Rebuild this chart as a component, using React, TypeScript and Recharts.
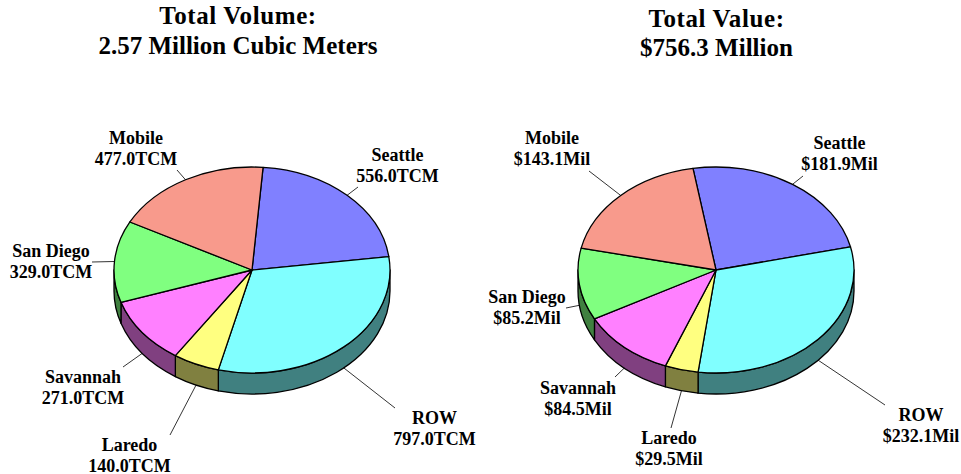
import { Pie, PieChart } from "recharts";

const sites = ["Seattle", "ROW", "Laredo", "Savannah", "San Diego", "Mobile"];
const volume = [556.0, 797.0, 140.0, 271.0, 329.0, 477.0];
const valueMil = [181.9, 232.1, 29.5, 84.5, 85.2, 143.1];
const topColors = ["#8080ff", "#80ffff", "#ffff80", "#ff80ff", "#80ff80", "#f89a8c"];
const wallColors = ["#404080", "#408080", "#808040", "#804080", "#408040", "#804d46"];

const volumeTitle = ["Total Volume:", "2.57 Million Cubic Meters"];
const valueTitle = ["Total Value:", "$756.3 Million"];

// label placement, same order as sites: text centre x, first line y, leader end x/y
const volumeSpots = [
  [397.5, 155, 358, 187],
  [434.5, 418, 395, 408],
  [129.5, 445, 170, 435],
  [83, 377, 123, 367],
  [51, 251, 92, 262],
  [136, 138, 177, 170],
];
const valueSpots = [
  [839.5, 143.5, 803, 176],
  [921, 415, 885, 405],
  [669, 438, 671, 428],
  [578, 388, 615, 377],
  [527, 297, 566, 308],
  [552, 138, 589, 171],
];

const SQUASH = 103 / 138;
const DEPTH = 21;
const FONT = "'Liberation Serif', serif";

const table = (values: number[], colors: string[]) =>
  sites.map((name, i) => ({ name, value: values[i], fill: colors[i] }));

const rad = (a: number) => (a * Math.PI) / 180;

const rimPoint = (cx: number, cy: number, r: number, a: number) => [
  cx + r * Math.cos(rad(a)),
  cy - r * SQUASH * Math.sin(rad(a)),
];

// top face of a slice, squashed into an ellipse
function TopSlice(props: any) {
  const { cx, cy, outerRadius: r, startAngle, endAngle, fill } = props;
  const [x1, y1] = rimPoint(cx, cy, r, startAngle);
  const [x2, y2] = rimPoint(cx, cy, r, endAngle);
  const large = Math.abs(startAngle - endAngle) > 180 ? 1 : 0;
  return (
    <path
      d={`M${cx},${cy}L${x1},${y1}A${r},${r * SQUASH} 0 ${large} 1 ${x2},${y2}Z`}
      fill={fill}
      stroke="#000"
      strokeWidth={1.3}
      strokeLinejoin="round"
    />
  );
}

// side wall, only the part of the slice on the front half of the disc
function WallSlice(props: any) {
  const { cx, cy, outerRadius: r, startAngle, endAngle, fill } = props;
  const from = Math.min(startAngle, 0);
  const to = Math.max(endAngle, -180);
  if (from <= to) return null;
  const [x1, y1] = rimPoint(cx, cy, r, from);
  const [x2, y2] = rimPoint(cx, cy, r, to);
  const ry = r * SQUASH;
  return (
    <path
      d={`M${x1},${y1}A${r},${ry} 0 0 1 ${x2},${y2}L${x2},${y2 + DEPTH}A${r},${ry} 0 0 0 ${x1},${y1 + DEPTH}Z`}
      fill={fill}
      stroke="#000"
      strokeWidth={1.3}
      strokeLinejoin="round"
    />
  );
}

const sliceLabel =
  (spots: number[][], format: (v: number) => string) => (props: any) => {
    const { cx, cy, outerRadius: r, midAngle, index, name, value } = props;
    const [tx, ty, lx, ly] = spots[index];
    const [mx, my] = rimPoint(cx, cy, r, midAngle);
    const front = Math.sin(rad(midAngle)) < 0;
    return (
      <g key={name}>
        <line
          x1={mx}
          y1={front ? my + DEPTH : my}
          x2={lx}
          y2={ly}
          stroke="#000"
          strokeWidth={0.8}
        />
        <text
          textAnchor="middle"
          fontFamily={FONT}
          fontWeight="bold"
          fontSize={18}
          fill="#000"
        >
          <tspan x={tx} y={ty + 5.5}>
            {name}
          </tspan>
          <tspan x={tx} y={ty + 26.5}>
            {format(value)}
          </tspan>
        </text>
      </g>
    );
  };

const fmtVolume = (v: number) => `${v.toFixed(1)}TCM`;
const fmtValue = (v: number) => `$${v.toFixed(1)}Mil`;

function Title({ x, y, gap, lines }: { x: number; y: number; gap: number; lines: string[] }) {
  return (
    <text textAnchor="middle" fontFamily={FONT} fontWeight="bold" fontSize={25} fill="#000">
      {lines.map((line, i) => (
        <tspan key={line} x={x} y={y + i * gap} letterSpacing={i === 0 ? 0.6 : 0}>
          {line}
        </tspan>
      ))}
    </text>
  );
}

export default function App() {
  return (
    <div style={{ position: "absolute", left: 0, top: 0, width: 961, height: 474 }}>
      <PieChart width={961} height={474} margin={{ top: 0, right: 0, bottom: 0, left: 0 }}>
        <Title x={238} y={24} gap={30} lines={volumeTitle} />
        <Title x={716.5} y={27} gap={29} lines={valueTitle} />
        <Pie
          data={table(volume, wallColors)}
          dataKey="value"
          cx={252}
          cy={270}
          outerRadius={138}
          startAngle={85.4}
          endAngle={-274.6}
          shape={WallSlice}
          isAnimationActive={false}
          label={false}
          labelLine={false}
        />
        <Pie
          data={table(volume, topColors)}
          dataKey="value"
          cx={252}
          cy={270}
          outerRadius={138}
          startAngle={85.4}
          endAngle={-274.6}
          shape={TopSlice}
          isAnimationActive={false}
          label={sliceLabel(volumeSpots, fmtVolume)}
          labelLine={false}
        />
        <Pie
          data={table(valueMil, wallColors)}
          dataKey="value"
          cx={716}
          cy={270}
          outerRadius={138}
          startAngle={99.6}
          endAngle={-260.4}
          shape={WallSlice}
          isAnimationActive={false}
          label={false}
          labelLine={false}
        />
        <Pie
          data={table(valueMil, topColors)}
          dataKey="value"
          cx={716}
          cy={270}
          outerRadius={138}
          startAngle={99.6}
          endAngle={-260.4}
          shape={TopSlice}
          isAnimationActive={false}
          label={sliceLabel(valueSpots, fmtValue)}
          labelLine={false}
        />
      </PieChart>
    </div>
  );
}
